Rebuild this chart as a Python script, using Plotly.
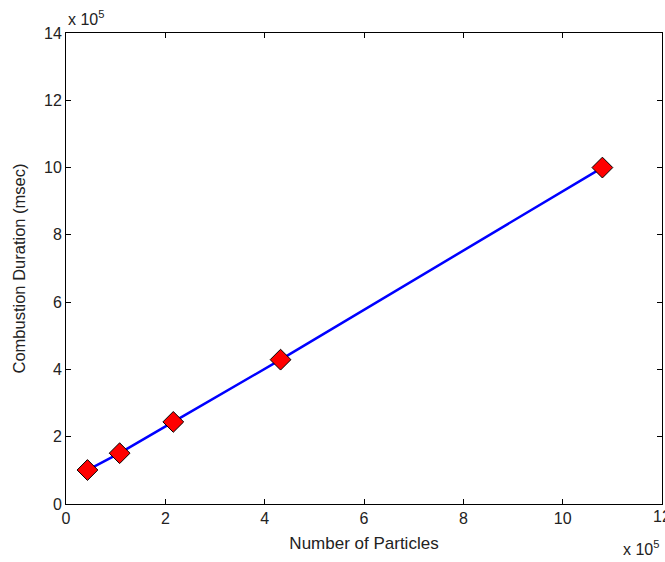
import plotly.graph_objects as go

particles = [0.432, 1.08, 2.16, 4.32, 10.8]   # x 10^5
duration = [1.01, 1.51, 2.44, 4.29, 10.0]     # x 10^5 msec
x_ticks = [0, 2, 4, 6, 8, 10, 12]
y_ticks = [0, 2, 4, 6, 8, 10, 12, 14]

FONT = "Liberation Sans, Arial, sans-serif"
TXT = "#222222"

fig = go.Figure()
fig.add_trace(go.Scatter(
    x=particles, y=duration, mode="lines+markers",
    line=dict(color="#0000ff", width=2.5),
    marker=dict(symbol="diamond", size=16, color="#ff0000",
                line=dict(color="#000000", width=1)),
    showlegend=False, cliponaxis=False,
))

axis_common = dict(
    showgrid=False, zeroline=False, showline=True, linecolor="black",
    linewidth=1, mirror="ticks", ticks="inside", ticklen=5,
    tickcolor="black", automargin=False,
    tickfont=dict(family=FONT, size=16, color=TXT),
)

# last x tick label sits on the page edge; draw it as an annotation so it is kept (partly cut like the reference)
x_labels = [str(v) for v in x_ticks[:-1]] + [""]

fig.update_layout(
    width=665, height=562,
    margin=dict(l=66, r=3, t=33, b=58),
    paper_bgcolor="white", plot_bgcolor="white",
    font=dict(family=FONT, color=TXT),
    xaxis=dict(range=[0, 12], tickvals=x_ticks, ticktext=x_labels,
               title=dict(text="Number of Particles", font=dict(size=17, family=FONT, color=TXT), standoff=10),
               **axis_common),
    yaxis=dict(range=[0, 14], tickvals=y_ticks, ticktext=[str(v) for v in y_ticks],
               title=dict(text="Combustion Duration (msec)", font=dict(size=16.5, family=FONT, color=TXT), standoff=14),
               **axis_common),
    annotations=[
        dict(text="x 10<sup>5</sup>", xref="paper", yref="paper", x=0, y=1,
             xanchor="left", yanchor="bottom", showarrow=False, yshift=3, xshift=0,
             font=dict(size=16, family=FONT, color=TXT)),
        dict(text="x 10<sup>5</sup>", xref="paper", yref="paper", x=1, y=0,
             xanchor="right", yanchor="top", showarrow=False, yshift=-32, xshift=-1,
             font=dict(size=16, family=FONT, color=TXT)),
        dict(text=str(x_ticks[-1]), xref="x", yref="paper", x=x_ticks[-1], y=0,
             xanchor="center", yanchor="top", showarrow=False, yshift=-2,
             font=dict(size=16, family=FONT, color=TXT)),
    ],
)

fig.write_html("out.html", config={"displayModeBar": False},
               post_script="document.body.style.margin='0';document.body.style.overflow='hidden';")
